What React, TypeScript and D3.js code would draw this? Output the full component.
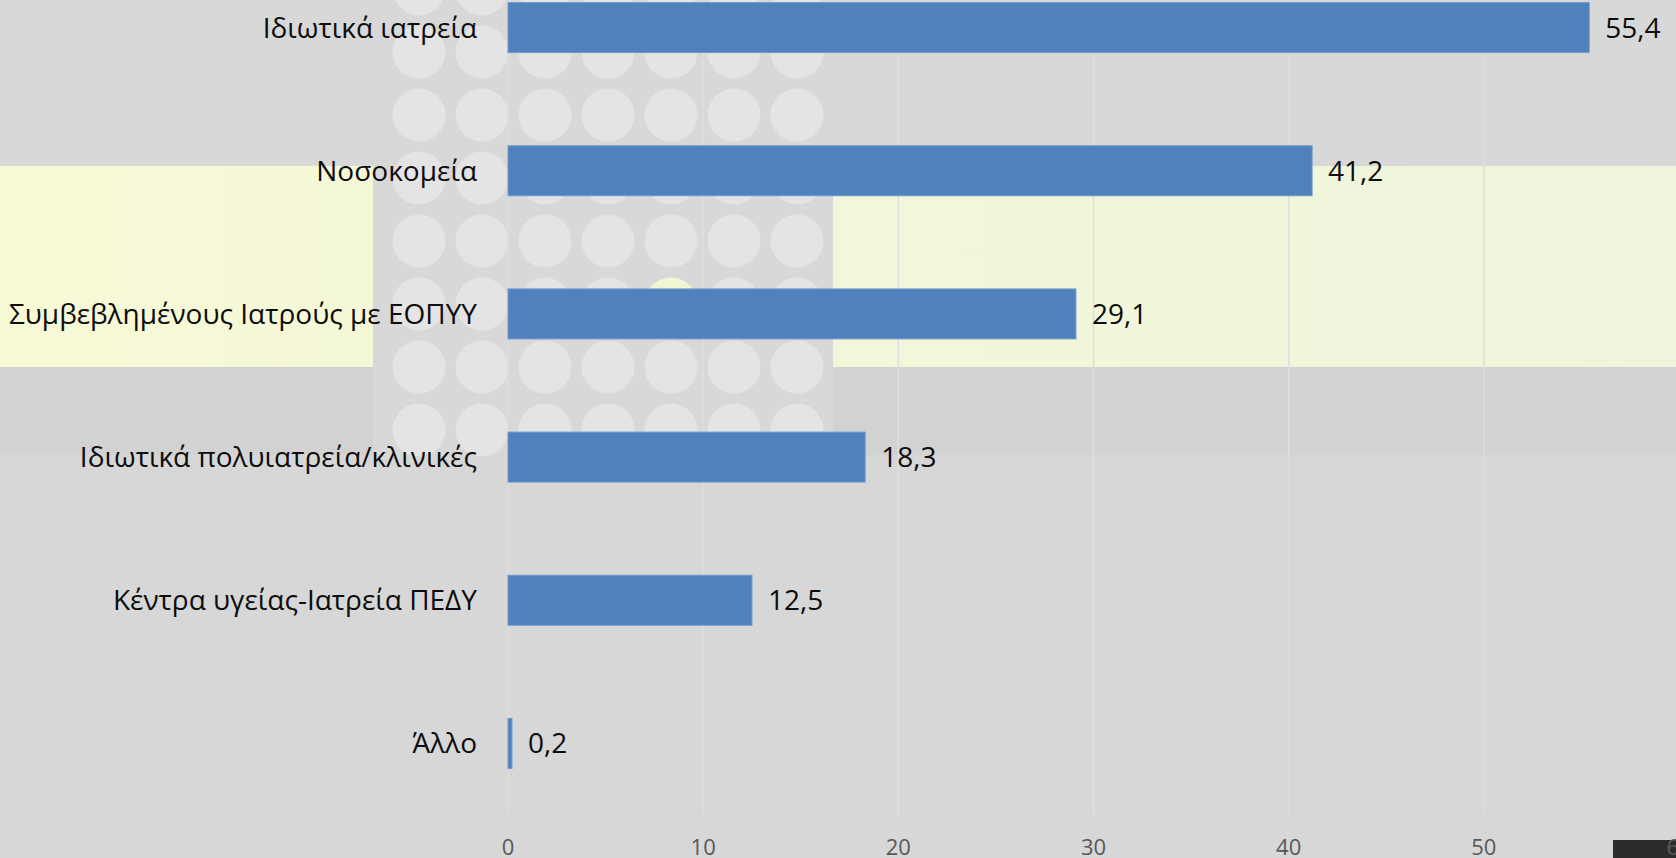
import React, { useEffect } from 'react';
import * as d3 from 'd3';

const categories = [
  'Ιδιωτικά ιατρεία',
  'Νοσοκομεία',
  'Συμβεβλημένους Ιατρούς με ΕΟΠΥΥ',
  'Ιδιωτικά πολυιατρεία/κλινικές',
  'Κέντρα υγείας-Ιατρεία ΠΕΔΥ',
  'Άλλο',
];
const values = [55.4, 41.2, 29.1, 18.3, 12.5, 0.2];
const xTicks = [0, 10, 20, 30, 40, 50, 60];

const W = 1676;
const H = 858;
const FONT = "'Open Sans', 'Noto Sans', sans-serif";

const greek = d3.formatLocale({ decimal: ',', thousands: '.', grouping: [3], currency: ['', '€'] });
const fmt = greek.format('.1f');

const App: React.FC = () => {
  useEffect(() => {
    document.body.style.margin = '0';
  }, []);

  // plot area (the chart is cropped: top of the category band sits above the frame)
  const x = d3.scaleLinear().domain([0, 60]).range([508, 1679]);
  const y = d3
    .scaleBand<string>()
    .domain(categories)
    .range([-44, 815])
    .paddingInner(0.651)
    .paddingOuter(0.3255);

  // decorative slide background: dotted panel
  const dotCols = d3.range(7).map((i) => 419 + i * 63);
  const dotRows = d3.range(8).map((j) => -11 + j * 63);

  return (
    <div style={{ position: 'fixed', left: 0, top: 0, width: W, height: H }}>
      <svg width={W} height={H} style={{ display: 'block' }}>
        <defs>
          <linearGradient id="band" x1="0" x2="1" y1="0" y2="0">
            <stop offset="0" stopColor="#f7f9d6" />
            <stop offset="1" stopColor="#eef5dc" />
          </linearGradient>
        </defs>

        {/* background */}
        <rect x={0} y={0} width={W} height={H} fill="#d7d7d7" />
        <rect x={0} y={0} width={W} height={166} fill="#d8d8d8" />
        <rect x={0} y={367} width={W} height={88} fill="#d2d2d2" />
        <rect x={0} y={166} width={W} height={201} fill="url(#band)" />
        <rect x={373} y={0} width={460} height={455} fill="#d8d8d8" />
        {dotRows.map((cy, j) =>
          dotCols.map((cx, i) => (
            <circle
              key={`${i}-${j}`}
              cx={cx}
              cy={cy}
              r={26.5}
              fill={i === 4 && j === 5 ? '#f3f6d2' : '#e4e4e4'}
            />
          ))
        )}
        <rect x={1613} y={840} width={W - 1613} height={H - 840} fill="#2b2b2b" />

        {/* gridlines */}
        <g>
          {xTicks.map((t) => (
            <line
              key={t}
              x1={x(t)}
              x2={x(t)}
              y1={y.range()[0]}
              y2={y.range()[1]}
              stroke="#dedede"
              strokeWidth={1.5}
            />
          ))}
        </g>

        {/* bars */}
        <g>
          {categories.map((c, i) => (
            <rect
              key={c}
              x={x(0)}
              y={y(c)}
              width={x(values[i]) - x(0)}
              height={y.bandwidth()}
              fill="#4f81bd"
              stroke="#6f98cb"
              strokeWidth={1}
            />
          ))}
        </g>

        {/* category labels */}
        <g fontFamily={FONT} fontSize={28} fill="#0d0d0d" textAnchor="end">
          {categories.map((c) => (
            <text key={c} x={x(0) - 31} y={(y(c) ?? 0) + y.bandwidth() / 2} dy="0.36em">
              {c}
            </text>
          ))}
        </g>

        {/* value labels */}
        <g fontFamily={FONT} fontSize={28} fill="#0d0d0d">
          {categories.map((c, i) => (
            <text key={c} x={x(values[i]) + 16} y={(y(c) ?? 0) + y.bandwidth() / 2} dy="0.36em">
              {fmt(values[i])}
            </text>
          ))}
        </g>

        {/* x tick labels */}
        <g fontFamily={FONT} fontSize={22} fill="#595959" textAnchor="middle">
          {xTicks.map((t) => (
            <text key={t} x={x(t)} y={855}>
              {t}
            </text>
          ))}
        </g>
      </svg>
    </div>
  );
};

export default App;
